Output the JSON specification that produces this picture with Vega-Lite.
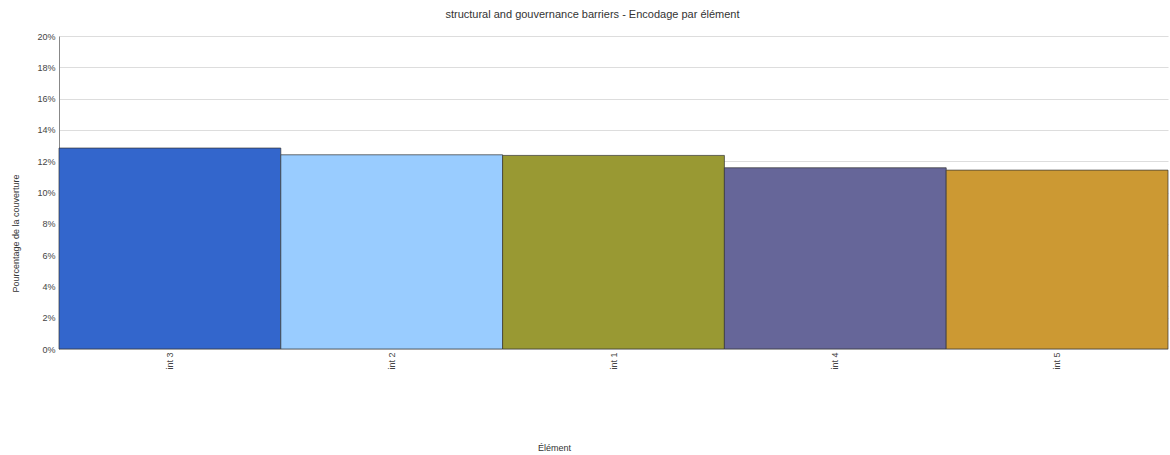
{
  "$schema": "https://vega.github.io/schema/vega-lite/v6.json",
  "autosize": "none",
  "width": 1109,
  "height": 313,
  "padding": {"left": 59, "top": 36, "right": 2, "bottom": 106},
  "background": "white",
  "title": {
    "text": "structural and gouvernance barriers - Encodage par élément",
    "anchor": "middle",
    "frame": "group",
    "dx": -21,
    "offset": 3,
    "baseline": "alphabetic",
    "fontSize": 11,
    "fontWeight": "normal",
    "color": "#333333",
    "font": "Liberation Sans"
  },
  "config": {
    "font": "Liberation Sans",
    "view": {"stroke": null}
  },
  "data": {
    "values": [
      {"element": "int 3", "pct": 0.1284},
      {"element": "int 2", "pct": 0.1241},
      {"element": "int 1", "pct": 0.1237},
      {"element": "int 4", "pct": 0.1158},
      {"element": "int 5", "pct": 0.1143}
    ]
  },
  "mark": {"type": "bar", "stroke": "#333333", "strokeOpacity": 0.7, "strokeWidth": 1},
  "encoding": {
    "x": {
      "field": "element",
      "type": "nominal",
      "sort": ["int 3", "int 2", "int 1", "int 4", "int 5"],
      "scale": {"paddingInner": 0, "paddingOuter": 0},
      "axis": {
        "title": "Élément",
        "labelAngle": -90,
        "labelFontSize": 9,
        "labelColor": "#444444",
        "labelPadding": 3,
        "ticks": false,
        "domain": false,
        "titleX": 495,
        "titleY": 98,
        "titleFontSize": 9,
        "titleFontWeight": "normal",
        "titleColor": "#333333",
        "titleAlign": "center",
        "titleBaseline": "middle"
      }
    },
    "y": {
      "field": "pct",
      "type": "quantitative",
      "scale": {"domain": [0, 0.2], "nice": false},
      "axis": {
        "title": "Pourcentage de la couverture",
        "values": [0, 0.02, 0.04, 0.06, 0.08, 0.1, 0.12, 0.14, 0.16, 0.18, 0.2],
        "format": ".0%",
        "labelFontSize": 9,
        "labelColor": "#444444",
        "labelPadding": 4,
        "ticks": false,
        "domain": true,
        "domainColor": "#888888",
        "gridColor": "#dddddd",
        "titleAngle": -90,
        "titleX": -44,
        "titleY": 197,
        "titleFontSize": 9,
        "titleFontWeight": "normal",
        "titleColor": "#333333",
        "titleAlign": "center",
        "titleBaseline": "middle"
      }
    },
    "color": {
      "field": "element",
      "type": "nominal",
      "scale": {
        "domain": ["int 3", "int 2", "int 1", "int 4", "int 5"],
        "range": ["#3366CC", "#99CCFF", "#999933", "#666699", "#CC9933"]
      },
      "legend": null
    }
  }
}
